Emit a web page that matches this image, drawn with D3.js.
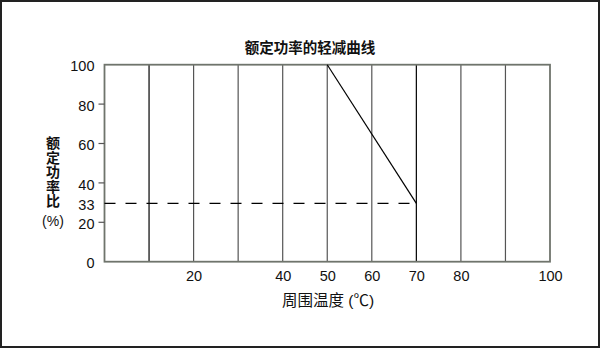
<!DOCTYPE html>
<html><head><meta charset="utf-8">
<script src="https://cdn.jsdelivr.net/npm/d3@7"></script>
<style>body{margin:0;background:#fff}svg{display:block}text{font-family:"Liberation Sans",Arial,"Noto Sans CJK SC",sans-serif;fill:#111}</style>
</head><body>
<script>
const title = "额定功率的轻减曲线";
const xTitle = "周围温度 (℃)";
const yTitleChars = ["额","定","功","率","比","(%)"];
const xTickValues = [20, 40, 50, 60, 70, 80, 100];
const yTickValues = [0, 20, 33, 40, 60, 80, 100];
const yTickMarks = [20, 40, 60, 80];
const gridX = [10, 20, 30, 40, 50, 60, 70, 80, 90];
const darkGrid = [10, 70];
const curveTemp = [50, 70];
const curvePower = [100, 33];
const dashTemp = [0, 70];
const dashPower = [33, 33];

const W = 600, H = 348;
const svg = d3.select("body").append("svg").attr("width", W).attr("height", H);
svg.append("rect").attr("x",1).attr("y",1).attr("width",W-2).attr("height",H-2)
  .attr("fill","#fff").attr("stroke","#222").attr("stroke-width",2);

const x = d3.scaleLinear().domain([0,100]).range([104.5,550]);
// the reference draws a schematic (non-uniform) power axis: 33 sits just under midway between 20 and 40
const yBase = d3.scaleLinear().domain([0,100]).range([261.7,64.7]);
const y = d3.scaleLinear()
  .domain([0, 20, 33, 40, 100])
  .range([yBase(0), yBase(20), yBase(20) + (yBase(40)-yBase(20))*0.48, yBase(40), yBase(100)]);

// grid lines
svg.append("g").selectAll("line").data(gridX).join("line")
  .attr("x1",d=>x(d)).attr("x2",d=>x(d)).attr("y1",y(0)).attr("y2",y(100))
  .attr("stroke",d=>darkGrid.includes(d)?"#000":"#555").attr("stroke-width",1.2);

// frame
svg.append("rect").attr("x",x(0)).attr("y",y(100)).attr("width",x(100)-x(0)).attr("height",y(0)-y(100))
  .attr("fill","none").attr("stroke","#6f746c").attr("stroke-width",1.8);

// dashed line
svg.append("path").datum(dashTemp.map((t,i)=>[t,dashPower[i]]))
  .attr("d",d3.line().x(d=>x(d[0])).y(d=>y(d[1])))
  .attr("stroke","#000").attr("stroke-width",1.2).attr("stroke-dasharray","11,10").attr("fill","none");

// derating curve
svg.append("path").datum(curveTemp.map((t,i)=>[t,curvePower[i]]))
  .attr("d",d3.line().x(d=>x(d[0])).y(d=>y(d[1])))
  .attr("stroke","#000").attr("stroke-width",1.2).attr("fill","none");

// y axis
const yAxis = d3.axisLeft(y).tickValues(yTickValues).tickSize(0).tickPadding(10).tickFormat(d3.format("d"));
const gy = svg.append("g").attr("transform",`translate(${x(0)},1.5)`).call(yAxis);
gy.select(".domain").remove();
gy.selectAll("text").attr("font-size",14.5).style("font-family",'"Liberation Sans",Arial,sans-serif');
svg.append("g").selectAll("line").data(yTickMarks).join("line")
  .attr("x1",x(0)-6).attr("x2",x(0)).attr("y1",d=>y(d)).attr("y2",d=>y(d))
  .attr("stroke","#555").attr("stroke-width",1.2);

// x axis
const xAxis = d3.axisBottom(x).tickValues(xTickValues).tickSize(0).tickPadding(9);
const gx = svg.append("g").attr("transform",`translate(0,${y(0)})`).call(xAxis);
gx.select(".domain").remove();
gx.selectAll("text").attr("font-size",14.5).style("font-family",'"Liberation Sans",Arial,sans-serif');

// titles
svg.append("text").attr("x",310).attr("y",53).attr("text-anchor","middle")
  .attr("font-size",14.5).attr("font-weight","bold").text(title);
svg.append("text").attr("x",328).attr("y",306).attr("text-anchor","middle")
  .attr("font-size",15.5).text(xTitle);
svg.append("g").selectAll("text").data(yTitleChars).join("text")
  .attr("x",53).attr("y",(d,i)=> i<5 ? 148+i*14.5 : 226)
  .attr("text-anchor","middle").attr("font-size",14)
  .attr("font-weight",(d,i)=> i<5 ? "bold" : "normal").text(d=>d);
</script>
</body></html>
